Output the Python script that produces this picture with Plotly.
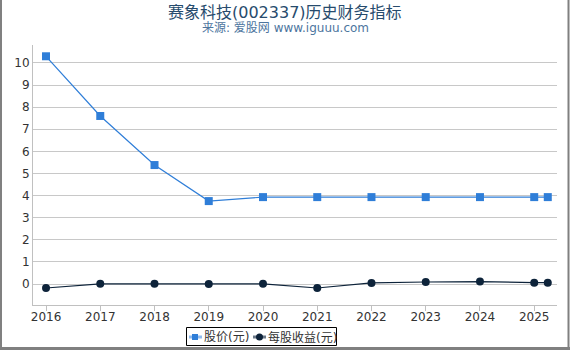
import plotly.graph_objects as go

years = [2016, 2017, 2018, 2019, 2020, 2021, 2022, 2023, 2024, 2025, 2025.25]
price = [10.3, 7.6, 5.38, 3.75, 3.93, 3.93, 3.93, 3.93, 3.93, 3.93, 3.93]
eps = [-0.18, 0.01, 0.01, 0.0, 0.01, -0.18, 0.05, 0.09, 0.11, 0.06, 0.06]
tick_years = [2016, 2017, 2018, 2019, 2020, 2021, 2022, 2023, 2024, 2025]
y_ticks = list(range(0, 11))
series_names = ["股价(元)", "每股收益(元)"]
series_colors = ["#2f7ed8", "#0d233a"]

W, H = 570, 350
ml, mr, mt, mb = 33, 13, 45, 45
pw, ph = W - ml - mr, H - mt - mb


def px(x):
    return (x - ml) / pw


def py(y):
    return (H - mb - y) / ph


fig = go.Figure()
fig.add_trace(go.Scatter(
    x=years, y=price, name=series_names[0], mode="lines+markers",
    line=dict(color=series_colors[0], width=1.2),
    marker=dict(symbol="square", size=8, color=series_colors[0]),
))
fig.add_trace(go.Scatter(
    x=years, y=eps, name=series_names[1], mode="lines+markers",
    line=dict(color=series_colors[1], width=1.2),
    marker=dict(symbol="circle", size=8, color=series_colors[1]),
))

font = "DejaVu Sans, Noto Sans CJK SC, sans-serif"

shapes = [
    # legend box
    dict(type="rect", xref="paper", yref="paper",
         x0=px(186.5), x1=px(336.5), y0=py(345.5), y1=py(327.5),
         line=dict(color="#000", width=1), fillcolor="white", layer="above"),
    # outer frame (left, right, bottom)
    dict(type="line", xref="paper", yref="paper",
         x0=px(1), x1=px(1), y0=py(-2), y1=py(349),
         line=dict(color="#808080", width=2), layer="above"),
    dict(type="line", xref="paper", yref="paper",
         x0=px(568.5), x1=px(568.5), y0=py(-2), y1=py(349),
         line=dict(color="#808080", width=2), layer="above"),
    dict(type="line", xref="paper", yref="paper",
         x0=px(0), x1=px(570), y0=py(348.5), y1=py(348.5),
         line=dict(color="#808080", width=3), layer="above"),
    # legend symbols
    dict(type="line", xref="paper", yref="paper",
         x0=px(189), x1=px(202), y0=py(337), y1=py(337),
         line=dict(color="#8fbbef", width=3), layer="above"),
    dict(type="rect", xref="paper", yref="paper",
         x0=px(192), x1=px(198), y0=py(340), y1=py(334),
         line=dict(width=0), fillcolor=series_colors[0], layer="above"),
    dict(type="line", xref="paper", yref="paper",
         x0=px(253), x1=px(266), y0=py(337), y1=py(337),
         line=dict(color="#6a7888", width=3), layer="above"),
    dict(type="circle", xref="paper", yref="paper",
         x0=px(256), x1=px(263), y0=py(340.5), y1=py(333.5),
         line=dict(width=0), fillcolor=series_colors[1], layer="above"),
]

annotations = [
    dict(text="赛象科技(002337)历史财务指标", xref="paper", yref="paper",
         x=px(284.5), y=py(12), xanchor="center", yanchor="middle",
         showarrow=False, font=dict(size=16, color="#274b6d", family=font)),
    dict(text="来源: 爱股网 www.iguuu.com", xref="paper", yref="paper",
         x=px(285), y=py(28), xanchor="center", yanchor="middle",
         showarrow=False, font=dict(size=12, color="#4d759e", family=font)),
    dict(text=series_names[0], xref="paper", yref="paper",
         x=px(204), y=py(337), xanchor="left", yanchor="middle",
         showarrow=False, xshift=-2,
         font=dict(size=12, color="#333", family=font)),
    dict(text=series_names[1], xref="paper", yref="paper",
         x=px(268), y=py(337), xanchor="left", yanchor="middle",
         showarrow=False, xshift=-2,
         font=dict(size=12, color="#333", family=font)),
]

fig.update_layout(
    width=W, height=H,
    margin=dict(l=ml, r=mr, t=mt, b=mb, autoexpand=False),
    paper_bgcolor="white", plot_bgcolor="white",
    font=dict(family=font, size=12, color="#444"),
    showlegend=False,
    xaxis=dict(range=[2015.76, 2025.42], tickvals=tick_years,
               ticktext=[str(y) for y in tick_years],
               showgrid=False, zeroline=False, showline=True,
               linecolor="#c0c0c0", linewidth=1, ticks="outside",
               tickcolor="#c0c0c0", ticklen=5, ticklabelstandoff=-4,
               tickfont=dict(size=12, color="#333")),
    yaxis=dict(range=[-0.95, 10.81], tickvals=y_ticks,
               showgrid=True, gridcolor="#c8c8c8", gridwidth=1,
               zeroline=False, showline=True, linecolor="#c0c0c0",
               linewidth=1, ticks="", tickfont=dict(size=12, color="#333")),
    shapes=shapes,
    annotations=annotations,
)

fig.write_html("out.html", config={"displayModeBar": False})
